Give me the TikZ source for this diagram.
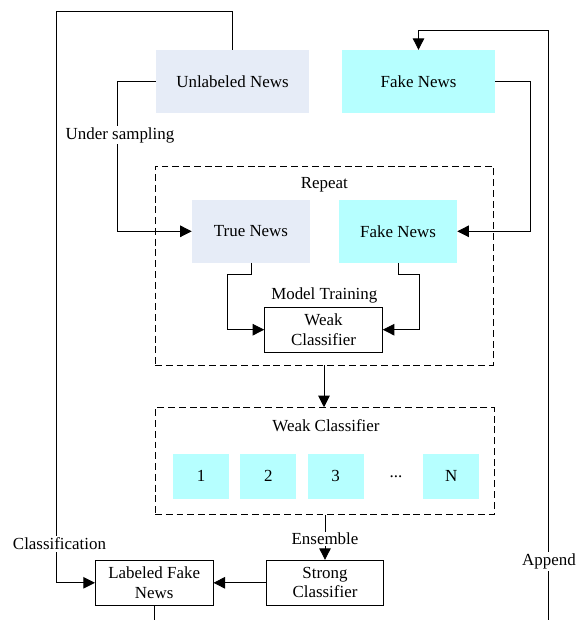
\documentclass[tikz,border=0pt]{standalone}
\usepackage{fontspec}
\setmainfont{Liberation Serif}
\usetikzlibrary{arrows.meta}

\definecolor{paleblue}{RGB}{230,236,247}
\definecolor{palecyan}{RGB}{182,255,255}

\tikzset{
  every node/.style={font=\fontsize{11}{12.5}\selectfont},
  bluebox/.style={fill=paleblue, minimum width=153*0.65pt, minimum height=62.7*0.65pt, inner sep=0pt},
  cyanbox/.style={fill=palecyan, minimum width=153*0.65pt, minimum height=62.7*0.65pt, inner sep=0pt},
  smallblue/.style={fill=paleblue, minimum width=118*0.65pt, minimum height=62.7*0.65pt, inner sep=0pt},
  smallcyan/.style={fill=palecyan, minimum width=118*0.65pt, minimum height=62.7*0.65pt, inner sep=0pt},
  tilebox/.style={fill=palecyan, minimum width=56*0.65pt, minimum height=44.7*0.65pt, inner sep=0pt},
  framed/.style={draw, line width=0.6pt, minimum width=117.7*0.65pt, minimum height=45*0.65pt, inner sep=0pt, align=center},
  groupbox/.style={draw, line width=0.6pt, dash pattern=on 4.5pt off 2.5pt, inner sep=0pt},
  tag/.style={fill=white, inner sep=1pt},
  conn/.style={line width=0.6pt},
  arr/.style={conn, -{Triangle[length=7.5pt, width=7.5pt]}},
}

\begin{document}
\begin{tikzpicture}[x=0.65pt, y=-0.65pt]
\useasboundingbox (0,0) rectangle (583,620);

% source pools
\node[bluebox] (unl) at (232.5,81.5) {Unlabeled News};
\node[cyanbox] (fake) at (418.5,81.5) {Fake News};

% repeated training stage
\node[groupbox, minimum width=338*0.65pt, minimum height=199*0.65pt] (rep) at (324,265.5) {};
\node (replbl) at (324.3,184.3) {Repeat};
\node[smallblue] (true) at (251,231.3) {True News};
\node[smallcyan] (fake2) at (398,231.3) {Fake News};
\node (mt) at (324.3,295) {Model Training};
\node[framed] (wc) at (323.5,329.7) {Weak\\Classifier};

% pool of weak classifiers
\node[groupbox, minimum width=339*0.65pt, minimum height=106.6*0.65pt] (wcbox) at (324.5,461) {};
\node (wclbl) at (326,425.7) {Weak Classifier};
\node[tilebox] (c1) at (201,476.3) {1};
\node[tilebox] (c2) at (268.3,476.3) {2};
\node[tilebox] (c3) at (335.5,476.3) {3};
\node (dots) at (396,476.3) {...};
\node[tilebox] (cN) at (451.3,476.3) {N};

% final stage
\node[framed] (strong) at (325,582.8) {Strong\\Classifier};
\node[framed] (lab) at (154.2,582.8) {Labeled Fake\\News};

% routing points
\coordinate (tl) at (56.8,11.7);
\coordinate (us) at (117.7,135);
\coordinate (rc) at (530.5,150);
\coordinate (a1) at (227.7,274);
\coordinate (a2) at (419,274);
\coordinate (apb) at (548,620);
\coordinate (apt) at (548,30);
\coordinate (labb) at (154.2,620);

% connectors
\draw[arr] (unl.north) |- (tl) |- (lab.west);
\draw[arr] (unl.west) -| (us) |- (true.west);
\draw[arr] (fake.east) -| (rc) |- (fake2.east);
\draw[arr] (apb) -- (apt) -| (fake.north);
\draw[conn] (lab.south) -- (labb);
\draw[arr] (true.south) |- (a1) |- (wc.west);
\draw[arr] (fake2.south) |- (a2) |- (wc.east);
\draw[arr] (rep.south) -- (rep.south |- wcbox.north);
\draw[arr] (wcbox.south -| strong.north) -- (strong.north);
\draw[arr] (strong.west) -- (lab.east);

% connector labels
\node[tag] at (120,135) {Under sampling};
\node[tag] at (59.5,544) {Classification};
\node[tag] at (325,539) {Ensemble};
\node[tag] at (549,561.7) {Append};
\end{tikzpicture}
\end{document}
